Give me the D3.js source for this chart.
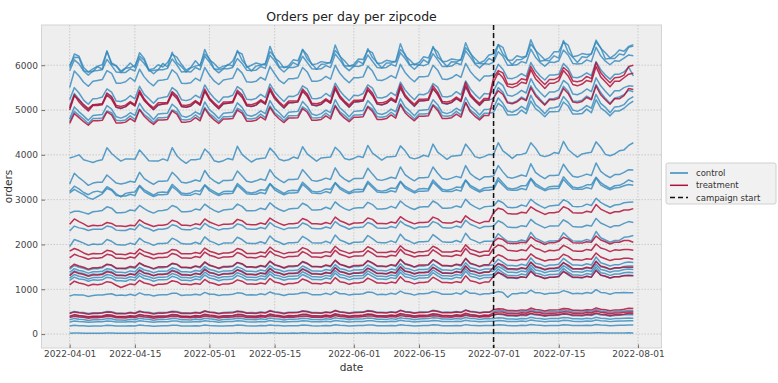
<!DOCTYPE html>
<html lang="en">
<head>
<meta charset="UTF-8">
<title>Orders per day per zipcode</title>
<script src="https://d3js.org/d3.v7.min.js"></script>
<style>
  body { margin: 0; background: #fff; }
  svg text { font-family: "DejaVu Sans", sans-serif; }
</style>
</head>
<body>
<svg id="chart" width="778" height="383"></svg>
<script>
// one value per day, 2022-04-01 .. 2022-07-31, one row per week (Fri..Thu)
const startDay = "2022-04-01";
const endDay = "2022-07-31";
const campaignStart = "2022-07-01";
const xTicks = ["2022-04-01", "2022-04-15", "2022-05-01", "2022-05-15", "2022-06-01",
                "2022-06-15", "2022-07-01", "2022-07-15", "2022-08-01"];
const yTicks = [0, 1000, 2000, 3000, 4000, 5000, 6000];

// control zipcodes
const c01 = [5950,6250,6200,5950,5850,5920,5980, 6010,6310,6050,5990,5870,5940,6050, 5950,6280,6150,5900,5920,6010,5960,
  6060,6240,6180,6020,5890,5950,6100, 5980,6350,6120,6040,5930,5980,6000, 6090,6300,6250,5950,6000,6050,6020,
  6010,6420,6160,6080,5940,5990,6120, 6100,6350,6230,6010,6030,6080,6060, 6050,6450,6200,6100,5980,6020,6140,
  6130,6330,6280,6040,6050,6110,6090, 6080,6480,6210,6120,6010,6060,6190, 6160,6390,6300,6080,6090,6140,6120,
  6110,6500,6260,6150,6050,6100,6230, 6250,6460,6400,6120,6110,6210,6180, 6200,6570,6330,6230,6120,6170,6300,
  6300,6520,6450,6190,6210,6260,6240, 6250,6560,6380,6280,6160,6230,6340, 6310,6420,6460];
const c02 = [6000,6180,6170,5880,5850,5860,5970, 5910,6320,6020,5980,5840,5930,5950, 5990,6200,6110,5870,5880,5900,6040,
  5960,6290,6060,5970,5850,5940,5980, 6010,6250,6150,5920,5900,5930,6020, 5980,6330,6110,5990,5870,5980,6000,
  6040,6300,6190,5960,5960,5950,6060, 6000,6350,6140,6030,5910,6020,6030, 6070,6330,6210,5980,5990,5980,6090,
  6030,6370,6170,6060,5940,6050,6050, 6090,6350,6250,6010,6020,6000,6120, 6050,6420,6180,6090,5970,6080,6070,
  6130,6390,6280,6050,6040,6030,6150, 6100,6460,6250,6130,6010,6120,6130, 6200,6470,6340,6090,6110,6100,6210,
  6160,6550,6290,6180,6060,6190,6170, 6260,6520,6390,6140,6150,6150,6250, 6230,6400,6430];
const c03 = [5880,6120,6030,5870,5780,5870,5880, 5900,6130,5990,5850,5840,5840,5920, 5870,6150,6040,5900,5810,5900,5900,
  5930,6140,6010,5850,5860,5850,5950, 5900,6200,6070,5920,5830,5920,5920, 5950,6150,6040,5890,5880,5890,5970,
  5930,6220,6100,5940,5850,5950,5950, 5980,6200,6060,5920,5910,5920,5990, 5950,6250,6120,5970,5880,5980,5970,
  6010,6230,6090,5950,5940,5950,6020, 5980,6280,6150,6000,5910,6010,5990, 6030,6260,6120,5970,5970,5980,6050,
  6010,6320,6180,6030,5940,6040,6020, 6070,6300,6200,6000,6000,6010,6080, 6050,6360,6180,6060,5980,6070,6060,
  6100,6340,6230,6040,6030,6040,6120, 6080,6400,6210,6090,6010,6100,6090, 6160,6230,6210];
const c04 = [5500,5870,5760,5620,5530,5640,5660, 5680,5880,5820,5600,5600,5630,5720, 5640,5910,5740,5620,5540,5660,5670,
  5690,5900,5810,5600,5590,5610,5710, 5650,5950,5780,5650,5570,5670,5690, 5710,5930,5830,5630,5620,5640,5730,
  5670,5970,5810,5660,5590,5700,5700, 5720,5950,5850,5640,5640,5670,5750, 5690,6000,5820,5700,5610,5720,5720,
  5740,5980,5870,5670,5660,5700,5770, 5710,6020,5840,5720,5630,5740,5740, 5760,6000,5890,5690,5680,5720,5790,
  5730,6040,5860,5740,5650,5760,5760, 5780,6020,5910,5710,5700,5740,5810, 5750,6060,5880,5760,5670,5780,5780,
  5800,6040,5930,5730,5720,5760,5830, 5770,6080,5900,5780,5690,5800,5800, 5850,5960,5760];
const c05 = [5230,5500,5380,5220,5130,5250,5260, 5290,5470,5400,5200,5190,5230,5320, 5250,5530,5350,5250,5150,5260,5280,
  5300,5500,5420,5230,5210,5240,5330, 5270,5560,5390,5270,5170,5290,5290, 5330,5520,5450,5240,5230,5260,5350,
  5280,5580,5410,5290,5190,5310,5300, 5350,5540,5470,5260,5250,5280,5370, 5300,5600,5430,5310,5210,5330,5320,
  5370,5560,5490,5280,5270,5300,5390, 5320,5620,5450,5330,5230,5350,5340, 5390,5590,5510,5300,5290,5320,5410,
  5340,5650,5470,5350,5250,5370,5360, 5430,5630,5550,5330,5310,5360,5440, 5380,5700,5510,5390,5290,5400,5400,
  5450,5660,5580,5360,5340,5390,5470, 5410,5720,5540,5420,5310,5430,5430, 5500,5540,5530];
const c06 = [5080,5370,5240,5100,5000,5110,5120, 5140,5360,5270,5060,5030,5080,5170, 5100,5390,5230,5110,5010,5100,5140,
  5160,5380,5300,5080,5060,5090,5190, 5110,5420,5260,5120,5030,5140,5150, 5180,5400,5320,5090,5080,5110,5200,
  5140,5430,5280,5140,5040,5160,5160, 5190,5420,5340,5110,5090,5130,5220, 5160,5460,5290,5160,5060,5180,5180,
  5210,5450,5350,5130,5110,5150,5230, 5180,5480,5310,5180,5080,5200,5200, 5230,5470,5370,5150,5130,5170,5250,
  5200,5510,5330,5200,5100,5220,5220, 5260,5500,5400,5180,5160,5200,5290, 5230,5540,5360,5240,5130,5250,5260,
  5290,5530,5420,5200,5190,5220,5310, 5250,5570,5390,5260,5150,5270,5290, 5340,5440,5410];
const c07 = [4800,5070,4960,4870,4770,4880,4890, 4900,5100,5020,4850,4820,4860,4940, 4880,5150,4990,4900,4790,4910,4920,
  4930,5130,5040,4870,4840,4880,4960, 4900,5180,5010,4920,4810,4930,4940, 4950,5160,5060,4890,4860,4900,4980,
  4920,5210,5030,4940,4830,4950,4960, 4970,5190,5080,4910,4880,4920,5000, 4940,5230,5050,4960,4850,4970,4980,
  4990,5210,5100,4930,4900,4940,5020, 4960,5250,5070,4980,4870,4990,5000, 5010,5230,5120,4950,4920,4960,5040,
  4980,5280,5090,5000,4890,5010,5020, 5050,5270,5150,4980,4950,5000,5080, 5010,5330,5120,5030,4920,5040,5050,
  5080,5300,5180,5000,4970,5020,5100, 5040,5350,5150,5060,4940,5070,5080, 5120,5240,5300];
const c08 = [4740,4970,4880,4800,4700,4810,4810, 4820,4980,4940,4770,4760,4780,4870, 4790,5020,4900,4820,4720,4830,4830,
  4840,5000,4960,4790,4780,4800,4890, 4810,5060,4920,4840,4740,4850,4850, 4860,5040,4980,4810,4800,4820,4910,
  4830,5090,4940,4860,4760,4870,4870, 4880,5070,5000,4830,4820,4840,4930, 4850,5110,4960,4880,4780,4890,4890,
  4900,5090,5020,4850,4840,4860,4950, 4870,5140,4980,4900,4800,4910,4910, 4920,5120,5040,4870,4860,4880,4970,
  4890,5170,5000,4920,4820,4930,4930, 4950,5150,5070,4890,4890,4900,5000, 4920,5200,5030,4950,4850,4960,4960,
  4970,5180,5090,4910,4910,4920,5020, 4940,5230,5050,4970,4870,4980,4980, 5040,5130,5200];
const c09 = [3930,3960,4000,3890,3860,3830,3870, 3890,4160,4030,3940,3860,3910,3910, 3900,4110,3990,3870,3860,3860,3910,
  3870,4160,3980,3880,3810,3890,3890, 3910,4130,4030,3870,3840,3870,3920, 3890,4190,4010,3920,3840,3900,3920,
  3930,4150,4040,3900,3870,3890,3950, 3920,4180,4020,3940,3860,3930,3940, 3950,4170,4070,3920,3890,3920,3970,
  3940,4210,4040,3960,3880,3950,3960, 3970,4200,4090,3940,3910,3940,3990, 3960,4240,4060,3980,3900,3970,3980,
  3990,4240,4110,3960,3930,3960,4010, 4000,4270,4090,4010,3920,4000,4010, 4040,4270,4150,3990,3960,3990,4050,
  4030,4300,4120,4030,3950,4020,4040, 4060,4290,4170,4010,3980,4020,4090, 4110,4210,4270];
const c10 = [3350,3590,3490,3410,3320,3370,3390, 3390,3550,3460,3370,3350,3370,3410, 3390,3610,3470,3400,3340,3410,3410,
  3420,3610,3510,3390,3370,3400,3440, 3410,3650,3500,3420,3360,3430,3430, 3440,3640,3530,3410,3390,3420,3460,
  3430,3670,3520,3440,3380,3450,3450, 3460,3670,3550,3430,3410,3440,3480, 3450,3710,3540,3460,3400,3470,3470,
  3480,3700,3570,3450,3430,3460,3500, 3470,3730,3560,3480,3420,3490,3490, 3500,3730,3590,3470,3450,3480,3520,
  3490,3760,3580,3500,3440,3510,3510, 3530,3760,3620,3500,3480,3510,3550, 3520,3800,3610,3530,3470,3540,3540,
  3550,3790,3640,3520,3500,3530,3570, 3540,3820,3630,3550,3490,3560,3560, 3610,3670,3660];
const c11 = [3180,3300,3240,3160,3110,3170,3190, 3160,3290,3230,3130,3060,3140,3160, 3170,3320,3220,3160,3100,3160,3170,
  3160,3340,3250,3150,3130,3150,3200, 3190,3330,3240,3180,3120,3180,3190, 3180,3360,3270,3170,3150,3170,3220,
  3210,3360,3260,3200,3140,3200,3210, 3200,3390,3290,3190,3170,3190,3240, 3230,3380,3280,3220,3160,3220,3230,
  3220,3410,3310,3210,3190,3210,3260, 3250,3410,3300,3240,3180,3240,3250, 3240,3440,3330,3230,3210,3230,3280,
  3270,3440,3320,3260,3200,3260,3270, 3280,3490,3370,3260,3240,3260,3310, 3310,3480,3360,3290,3230,3290,3300,
  3300,3510,3390,3280,3260,3280,3330, 3330,3500,3380,3310,3250,3310,3320, 3370,3440,3400];
const c12 = [3150,3230,3170,3110,3040,3010,3070, 3130,3250,3210,3090,3080,3080,3120, 3090,3300,3180,3120,3070,3110,3110,
  3120,3290,3210,3110,3100,3100,3140, 3110,3320,3200,3140,3090,3130,3130, 3140,3320,3230,3130,3120,3120,3160,
  3130,3350,3220,3160,3110,3150,3150, 3160,3340,3250,3150,3140,3140,3180, 3150,3370,3240,3180,3130,3170,3170,
  3180,3370,3270,3170,3160,3160,3200, 3170,3400,3260,3200,3150,3190,3190, 3200,3390,3290,3190,3180,3180,3220,
  3190,3430,3280,3220,3170,3210,3210, 3230,3430,3320,3220,3210,3210,3250, 3220,3460,3310,3250,3200,3240,3250,
  3250,3450,3340,3240,3230,3230,3270, 3240,3480,3330,3270,3220,3260,3270, 3310,3340,3320];
const c13 = [2700,2740,2740,2710,2680,2730,2740, 2760,2840,2810,2710,2710,2720,2770, 2750,2870,2800,2740,2700,2750,2760,
  2780,2870,2830,2730,2730,2740,2790, 2770,2900,2820,2760,2720,2770,2780, 2790,2900,2850,2750,2750,2760,2810,
  2780,2930,2840,2780,2740,2790,2800, 2810,2920,2870,2770,2770,2780,2830, 2790,2950,2860,2800,2760,2810,2820,
  2820,2940,2890,2790,2790,2800,2850, 2810,2970,2880,2820,2780,2830,2840, 2840,2970,2910,2810,2810,2820,2860,
  2830,3010,2900,2840,2790,2840,2850, 2860,2980,2930,2830,2820,2830,2880, 2850,3010,2920,2860,2810,2860,2870,
  2880,3000,2950,2850,2840,2850,2900, 2870,3030,2940,2880,2830,2880,2890, 2930,2940,2950];
const c14 = [2300,2410,2370,2350,2310,2340,2340, 2340,2410,2390,2320,2310,2310,2350, 2330,2450,2380,2350,2300,2340,2340,
  2360,2440,2410,2340,2330,2330,2370, 2340,2470,2400,2360,2320,2350,2350, 2370,2460,2430,2350,2340,2340,2380,
  2350,2490,2410,2370,2330,2370,2370, 2380,2480,2440,2360,2350,2350,2390, 2360,2510,2430,2390,2340,2380,2380,
  2390,2490,2450,2370,2360,2360,2400, 2370,2520,2440,2400,2350,2390,2390, 2400,2510,2470,2380,2370,2370,2410,
  2380,2540,2450,2410,2360,2400,2400, 2410,2530,2480,2390,2380,2380,2420, 2400,2560,2470,2420,2370,2410,2410,
  2420,2550,2490,2400,2390,2390,2430, 2410,2580,2480,2430,2380,2420,2420, 2470,2510,2490];
const c15 = [1950,2110,2070,2030,1980,2010,2000, 2010,2110,2070,2000,1990,1990,2030, 2000,2140,2060,2030,1980,2020,2020,
  2030,2140,2090,2020,2010,2010,2050, 2010,2170,2080,2040,1990,2030,2030, 2040,2160,2110,2030,2020,2020,2060,
  2020,2190,2090,2050,2000,2040,2040, 2050,2180,2120,2040,2030,2030,2070, 2030,2210,2100,2060,2010,2050,2050,
  2060,2200,2130,2050,2040,2040,2080, 2040,2230,2110,2070,2020,2060,2060, 2070,2220,2140,2060,2050,2050,2090,
  2050,2250,2120,2080,2030,2070,2070, 2080,2240,2150,2070,2060,2060,2100, 2070,2270,2140,2090,2040,2080,2080,
  2090,2260,2160,2080,2070,2070,2110, 2080,2290,2150,2100,2050,2090,2090, 2160,2170,2200];
const c16 = [1450,1530,1490,1470,1430,1460,1460, 1480,1550,1530,1460,1460,1450,1490, 1470,1580,1520,1490,1450,1480,1480,
  1500,1570,1550,1480,1480,1470,1510, 1480,1600,1530,1500,1460,1490,1490, 1510,1590,1560,1490,1490,1480,1520,
  1490,1620,1540,1510,1470,1500,1500, 1520,1610,1570,1500,1500,1490,1530, 1500,1640,1550,1520,1480,1510,1510,
  1530,1630,1580,1510,1510,1500,1540, 1510,1660,1560,1530,1490,1520,1520, 1540,1650,1590,1520,1520,1510,1550,
  1520,1680,1570,1540,1500,1530,1530, 1550,1670,1600,1530,1530,1520,1560, 1530,1700,1580,1560,1510,1540,1540,
  1560,1690,1610,1540,1540,1530,1570, 1540,1720,1590,1560,1520,1550,1550, 1590,1610,1600];
const c17 = [1380,1460,1420,1400,1360,1390,1390, 1400,1460,1440,1380,1380,1370,1410, 1390,1490,1430,1410,1370,1400,1400,
  1410,1480,1450,1390,1390,1380,1420, 1400,1510,1440,1420,1380,1410,1410, 1420,1500,1460,1400,1400,1390,1430,
  1410,1530,1450,1430,1390,1420,1420, 1430,1520,1470,1410,1410,1400,1440, 1420,1550,1460,1440,1400,1430,1430,
  1440,1540,1480,1420,1420,1410,1450, 1430,1570,1470,1450,1410,1440,1440, 1450,1560,1490,1430,1430,1420,1460,
  1440,1590,1480,1460,1420,1450,1450, 1460,1580,1500,1440,1440,1430,1470, 1450,1610,1490,1470,1430,1460,1460,
  1470,1600,1510,1450,1450,1440,1480, 1460,1630,1500,1480,1440,1470,1470, 1510,1520,1520];
const c18 = [1330,1410,1370,1350,1310,1340,1330, 1350,1410,1390,1320,1320,1310,1350, 1330,1440,1370,1350,1310,1340,1340,
  1360,1430,1400,1330,1330,1320,1360, 1340,1460,1380,1360,1320,1350,1350, 1370,1440,1410,1340,1340,1330,1370,
  1350,1470,1390,1370,1330,1360,1360, 1380,1460,1420,1350,1350,1340,1380, 1360,1490,1400,1380,1340,1370,1370,
  1390,1470,1430,1360,1360,1350,1390, 1370,1500,1410,1390,1350,1380,1380, 1400,1490,1440,1370,1370,1360,1400,
  1380,1520,1420,1400,1360,1390,1390, 1410,1510,1450,1380,1380,1370,1410, 1390,1540,1430,1410,1370,1400,1400,
  1420,1530,1460,1390,1390,1380,1420, 1400,1560,1440,1420,1380,1410,1410, 1440,1450,1440];
const c19 = [1250,1330,1290,1270,1230,1260,1260, 1270,1330,1310,1250,1250,1240,1280, 1260,1360,1300,1280,1240,1270,1270,
  1280,1350,1320,1260,1260,1250,1290, 1270,1380,1310,1290,1250,1280,1280, 1290,1370,1330,1270,1270,1260,1300,
  1280,1400,1320,1300,1260,1290,1290, 1300,1390,1340,1280,1280,1270,1310, 1290,1420,1330,1310,1270,1300,1300,
  1310,1410,1350,1290,1290,1280,1320, 1300,1440,1340,1320,1280,1310,1310, 1320,1430,1360,1300,1300,1290,1330,
  1310,1460,1350,1330,1290,1320,1320, 1330,1450,1370,1310,1310,1300,1340, 1320,1480,1360,1340,1300,1330,1330,
  1340,1470,1380,1320,1320,1310,1350, 1330,1500,1370,1350,1310,1340,1340, 1370,1380,1370];
const c20 = [1200,1270,1230,1220,1180,1210,1200, 1210,1270,1250,1190,1190,1180,1220, 1200,1300,1240,1220,1180,1210,1210,
  1220,1290,1260,1200,1200,1190,1230, 1210,1320,1250,1230,1190,1220,1220, 1230,1310,1270,1210,1210,1200,1240,
  1220,1340,1260,1240,1200,1230,1230, 1240,1330,1280,1220,1220,1210,1250, 1230,1360,1270,1250,1210,1240,1240,
  1250,1350,1290,1230,1230,1220,1260, 1240,1380,1280,1260,1220,1250,1250, 1260,1370,1300,1240,1240,1230,1270,
  1250,1400,1290,1270,1230,1260,1260, 1270,1390,1310,1250,1250,1240,1280, 1260,1420,1300,1280,1240,1270,1270,
  1280,1410,1320,1260,1260,1250,1290, 1270,1440,1310,1290,1250,1280,1280, 1310,1320,1310];
const c21 = [850,880,870,870,840,860,870, 870,890,900,860,870,860,890, 860,920,880,880,850,870,880,
  880,910,910,860,870,870,890, 870,930,890,890,860,880,880, 890,920,910,870,880,870,900,
  880,940,900,890,860,890,890, 900,930,920,880,880,880,910, 880,950,900,900,870,890,890,
  900,940,930,880,890,880,910, 890,960,910,900,870,900,900, 910,950,930,890,890,890,920,
  890,970,910,910,880,900,900, 920,950,930,820,900,900,920, 910,980,920,920,890,910,910,
  920,970,940,900,910,900,930, 910,990,930,920,890,920,920, 930,920,920];
const c22 = [470,505,485,480,460,475,475, 480,505,500,470,470,465,485, 470,515,490,485,465,480,480,
  485,510,505,475,475,470,490, 475,520,495,485,465,480,485, 490,515,505,475,480,475,495,
  480,525,500,490,470,485,485, 490,520,510,480,480,475,495, 480,530,500,490,475,490,490,
  495,525,515,485,485,480,500, 485,535,505,495,475,490,495, 495,530,515,485,490,485,505,
  490,540,510,500,480,495,495, 500,535,520,490,490,490,505, 495,545,510,500,485,500,500,
  505,540,525,495,495,490,510, 495,550,515,505,485,500,505, 515,525,520];
const c23 = [390,420,400,395,375,390,390, 395,420,410,385,385,380,400, 390,425,405,400,380,395,395,
  400,425,415,390,390,385,405, 395,430,405,400,380,395,400, 405,430,420,395,395,390,410,
  395,435,410,405,385,400,400, 405,430,420,395,395,390,410, 400,440,415,410,390,405,405,
  410,435,425,400,400,395,415, 405,445,415,410,390,405,410, 415,440,430,405,405,400,420,
  405,445,420,415,395,410,410, 420,445,430,405,405,400,420, 410,450,425,420,400,415,415,
  420,450,435,410,410,405,425, 415,455,425,420,400,415,420, 430,435,430];
const c24 = [320,350,330,325,305,320,320, 325,345,340,315,315,310,330, 320,355,335,330,310,325,325,
  330,350,345,320,320,315,335, 320,355,340,330,310,325,330, 335,355,350,325,325,320,340,
  325,360,340,335,315,330,330, 335,355,350,325,325,320,340, 330,365,345,340,320,335,335,
  340,360,355,330,330,325,345, 330,365,345,340,320,335,340, 345,365,360,335,335,330,350,
  335,370,350,345,325,340,340, 345,365,360,335,335,330,350, 340,375,355,350,330,345,345,
  350,370,365,340,340,335,355, 340,375,355,350,330,345,350, 355,360,355];
const c25 = [270,292,282,275,262,270,273, 274,290,288,270,268,268,279, 271,297,284,277,264,273,276,
  277,293,290,272,270,270,281, 273,299,286,279,266,274,279, 279,296,292,274,272,272,283,
  275,301,288,281,268,276,280, 280,298,294,276,274,274,284, 277,305,290,283,270,278,282,
  282,300,296,278,276,276,286, 279,307,292,285,272,280,284, 284,303,298,280,278,278,288,
  281,309,294,287,274,282,286, 286,305,300,282,280,280,290, 283,313,296,289,276,284,288,
  288,308,302,284,282,282,292, 285,315,298,291,278,286,290, 292,298,295];
const c26 = [180,197,188,184,176,181,183, 183,196,194,181,180,179,187, 181,201,190,186,177,182,185,
  185,199,196,182,181,181,188, 183,203,192,188,178,183,187, 186,201,198,184,182,183,189,
  184,205,194,189,180,185,188, 188,202,199,185,183,184,191, 186,207,195,191,181,186,189,
  189,204,200,187,185,186,192, 187,209,197,192,182,187,191, 191,206,201,188,186,187,193,
  188,211,198,193,184,189,192, 192,208,203,189,187,188,195, 190,213,200,195,185,190,194,
  193,210,204,191,189,190,196, 191,215,201,196,186,191,195, 197,203,200];
const c27 = [18,24,22,19,17,18,20, 19,25,22,19,17,18,20, 19,25,23,19,18,18,20, 20,26,23,20,18,19,21,
  20,26,23,20,18,19,21, 20,27,24,20,18,19,21, 21,27,24,21,19,20,22, 21,28,24,21,19,20,22,
  21,28,25,21,19,20,22, 22,29,25,22,20,21,23, 22,29,25,22,20,21,23, 22,30,26,22,20,21,23,
  23,30,26,23,21,22,24, 23,31,26,23,21,22,24, 23,31,27,23,21,22,24, 24,32,27,24,22,23,25,
  24,32,27,24,22,23,25, 25,28,26];

// treatment zipcodes
const t01 = [5000,5320,5230,5120,5030,5120,5130, 5140,5380,5300,5100,5080,5110,5190, 5120,5440,5250,5130,5050,5160,5160,
  5170,5410,5320,5110,5100,5130,5210, 5140,5470,5270,5160,5070,5180,5180, 5190,5440,5340,5130,5120,5150,5230,
  5160,5500,5300,5180,5090,5200,5200, 5210,5470,5360,5150,5140,5170,5250, 5180,5530,5320,5200,5110,5220,5220,
  5230,5500,5380,5170,5160,5190,5270, 5200,5570,5340,5220,5130,5240,5240, 5250,5540,5400,5190,5180,5210,5290,
  5220,5620,5360,5240,5150,5260,5260, 5720,5880,5830,5580,5570,5600,5700, 5670,5970,5790,5670,5570,5680,5680,
  5730,5950,5860,5650,5630,5660,5750, 5700,6060,5830,5710,5610,5720,5730, 5780,5970,6000];
const t02 = [5040,5340,5180,5070,4980,5100,5100, 5120,5330,5240,5060,5040,5070,5160, 5090,5390,5210,5110,5010,5120,5130,
  5140,5360,5260,5080,5060,5090,5180, 5110,5420,5230,5130,5030,5140,5150, 5160,5390,5280,5100,5080,5110,5200,
  5130,5450,5250,5150,5050,5160,5170, 5180,5420,5300,5120,5100,5130,5220, 5150,5480,5270,5170,5070,5180,5190,
  5200,5450,5320,5140,5120,5150,5240, 5170,5510,5290,5190,5090,5200,5210, 5220,5480,5340,5160,5140,5170,5260,
  5190,5540,5310,5210,5110,5220,5230, 5620,5830,5720,5530,5500,5540,5620, 5590,5900,5700,5590,5480,5600,5600,
  5650,5880,5760,5570,5540,5580,5660, 5630,5970,5740,5630,5520,5640,5640, 5720,5800,5820];
const t03 = [4700,4920,4830,4740,4660,4760,4760, 4770,4960,4890,4710,4710,4730,4810, 4740,5010,4860,4760,4680,4780,4780,
  4790,4980,4910,4730,4730,4750,4830, 4760,5030,4880,4780,4700,4800,4800, 4810,5000,4930,4750,4750,4770,4850,
  4780,5060,4900,4800,4720,4820,4820, 4830,5030,4950,4770,4770,4790,4870, 4800,5090,4920,4820,4740,4840,4840,
  4850,5070,4970,4790,4790,4810,4890, 4820,5120,4940,4840,4760,4860,4860, 4870,5100,4990,4810,4810,4830,4910,
  4840,5170,4960,4860,4780,4880,4880, 5270,5430,5350,5160,5140,5180,5260, 5210,5500,5320,5210,5110,5230,5230,
  5260,5480,5370,5180,5160,5190,5280, 5230,5540,5340,5230,5130,5250,5250, 5320,5480,5460];
const t04 = [2450,2570,2510,2460,2400,2430,2420, 2430,2490,2470,2410,2410,2400,2430, 2420,2550,2480,2440,2400,2430,2430,
  2450,2540,2510,2430,2430,2420,2460, 2440,2570,2500,2460,2420,2450,2450, 2460,2560,2530,2450,2440,2440,2480,
  2450,2590,2520,2470,2430,2460,2460, 2480,2580,2540,2460,2460,2450,2490, 2460,2610,2530,2490,2440,2480,2480,
  2490,2590,2560,2470,2470,2460,2500, 2480,2620,2550,2500,2460,2490,2490, 2500,2610,2570,2490,2480,2480,2520,
  2490,2640,2560,2510,2470,2510,2510, 2710,2810,2780,2690,2680,2680,2720, 2700,2840,2770,2720,2670,2710,2710,
  2730,2840,2800,2710,2700,2700,2740, 2720,2890,2790,2740,2690,2730,2730, 2770,2770,2800];
const t05 = [1850,1910,1870,1810,1770,1800,1790, 1800,1870,1850,1780,1780,1770,1810, 1790,1900,1840,1810,1770,1800,1800,
  1820,1890,1870,1790,1790,1790,1820, 1800,1920,1850,1820,1780,1810,1810, 1830,1910,1880,1800,1800,1800,1830,
  1810,1940,1860,1830,1790,1820,1820, 1840,1930,1890,1810,1810,1810,1840, 1820,1960,1870,1840,1800,1830,1830,
  1850,1950,1900,1820,1820,1820,1850, 1830,1970,1880,1850,1810,1840,1840, 1860,1960,1910,1830,1830,1830,1860,
  1840,1990,1890,1860,1820,1850,1850, 2060,2140,2110,2030,2020,2020,2050, 2040,2170,2090,2050,2000,2040,2040,
  2070,2160,2120,2040,2030,2030,2060, 2050,2190,2100,2060,2010,2050,2050, 2090,2090,2050];
const t06 = [1700,1780,1740,1710,1670,1700,1690, 1710,1780,1760,1690,1690,1680,1720, 1700,1810,1750,1720,1680,1710,1710,
  1720,1800,1770,1700,1700,1690,1730, 1710,1830,1760,1730,1690,1720,1720, 1730,1820,1780,1710,1710,1700,1740,
  1720,1850,1770,1740,1700,1730,1730, 1740,1840,1790,1720,1720,1710,1750, 1730,1870,1780,1750,1710,1740,1740,
  1750,1860,1800,1730,1730,1720,1760, 1740,1890,1790,1760,1720,1750,1750, 1760,1880,1810,1740,1740,1730,1770,
  1750,1910,1800,1770,1730,1760,1760, 1910,1990,1960,1870,1860,1850,1880, 1860,1990,1910,1880,1830,1870,1860,
  1880,1980,1930,1860,1850,1850,1890, 1870,2010,1920,1890,1840,1880,1870, 1890,1890,1870];
const t07 = [1480,1560,1520,1490,1450,1480,1480, 1500,1560,1540,1470,1470,1470,1510, 1490,1590,1530,1500,1460,1500,1500,
  1510,1580,1560,1490,1490,1480,1520, 1500,1610,1540,1510,1470,1510,1510, 1520,1600,1570,1500,1500,1490,1530,
  1510,1630,1550,1520,1480,1520,1520, 1530,1620,1580,1510,1510,1500,1540, 1520,1650,1560,1530,1490,1530,1530,
  1540,1640,1590,1520,1520,1510,1550, 1530,1670,1570,1540,1500,1540,1540, 1550,1660,1600,1530,1530,1520,1560,
  1540,1690,1580,1550,1510,1550,1550, 1690,1770,1730,1660,1650,1640,1670, 1660,1790,1710,1670,1630,1660,1660,
  1680,1780,1740,1660,1660,1650,1680, 1670,1810,1720,1680,1640,1670,1670, 1690,1690,1670];
const t08 = [1300,1390,1350,1330,1290,1320,1320, 1330,1390,1370,1310,1310,1300,1340, 1320,1420,1360,1340,1300,1330,1330,
  1340,1410,1380,1320,1320,1310,1350, 1330,1440,1370,1350,1310,1340,1340, 1350,1430,1390,1330,1330,1320,1360,
  1340,1460,1380,1360,1320,1350,1350, 1360,1450,1400,1340,1340,1330,1370, 1350,1480,1390,1370,1330,1360,1360,
  1370,1470,1410,1350,1350,1340,1380, 1360,1500,1400,1380,1340,1370,1370, 1380,1490,1420,1360,1360,1350,1390,
  1370,1520,1410,1390,1350,1380,1380, 1490,1570,1540,1460,1460,1450,1480, 1460,1600,1510,1480,1440,1470,1470,
  1490,1590,1540,1460,1460,1460,1490, 1470,1620,1520,1490,1450,1480,1480, 1490,1490,1490];
const t09 = [1100,1180,1140,1120,1080,1110,1100, 1120,1170,1150,1090,1040,1080,1120, 1100,1200,1140,1120,1080,1110,1110,
  1130,1190,1170,1110,1110,1100,1130, 1110,1220,1150,1130,1090,1120,1120, 1140,1210,1180,1120,1120,1110,1140,
  1120,1240,1160,1140,1100,1130,1130, 1150,1230,1190,1130,1130,1120,1150, 1130,1260,1170,1150,1110,1140,1140,
  1160,1250,1200,1140,1140,1130,1160, 1140,1280,1180,1160,1120,1150,1150, 1170,1270,1210,1150,1150,1140,1170,
  1150,1300,1190,1170,1130,1160,1160, 1290,1370,1330,1260,1260,1250,1280, 1260,1400,1310,1280,1240,1270,1270,
  1290,1390,1340,1270,1270,1260,1290, 1270,1420,1320,1290,1250,1280,1280, 1300,1300,1300];
const t10 = [460,495,475,465,445,460,460, 470,490,485,455,455,455,475, 460,505,480,470,450,465,465,
  475,500,490,460,460,460,475, 465,510,485,475,455,470,470, 475,505,495,465,465,460,480,
  470,515,490,475,455,475,475, 480,510,500,470,470,465,485, 475,520,495,480,460,475,480,
  485,515,505,475,475,470,490, 475,525,495,485,465,480,480, 490,520,505,475,475,475,495,
  480,530,500,490,470,485,485, 545,565,560,525,525,520,540, 530,580,550,540,515,535,535,
  545,570,565,530,530,525,545, 535,585,555,545,520,540,540, 555,575,570];
const t11 = [400,435,415,405,385,400,400, 405,430,425,395,395,395,410, 400,440,420,410,390,405,405,
  410,435,430,400,400,395,415, 405,445,425,415,395,410,410, 415,440,435,405,405,400,420,
  405,450,425,415,395,415,410, 420,445,440,410,410,405,425, 410,455,430,420,400,415,415,
  425,450,440,410,410,410,425, 415,460,435,425,405,420,420, 425,455,445,415,415,410,430,
  420,465,435,425,405,425,420, 475,495,490,460,460,455,475, 465,510,480,475,450,465,465,
  475,500,495,465,465,460,480, 470,515,485,475,455,470,470, 485,495,490];
const t12 = [370,395,380,375,355,370,365, 375,390,390,365,365,360,380, 365,400,380,375,355,370,370,
  380,395,395,370,370,365,380, 370,405,385,380,360,375,375, 380,400,395,370,370,365,385,
  375,410,390,385,365,380,375, 385,400,400,375,375,370,390, 375,415,390,385,365,380,380,
  390,405,405,380,380,375,390, 380,415,395,390,370,385,385, 390,410,405,380,380,375,395,
  385,420,400,395,375,390,385, 435,450,450,420,420,415,435, 425,465,440,430,410,425,425,
  435,455,450,425,425,420,440, 430,470,445,435,415,430,430, 445,465,460];

const controlSeries = [c01, c02, c03, c04, c05, c06, c07, c08, c09, c10, c11, c12, c13, c14,
  c15, c16, c17, c18, c19, c20, c21, c22, c23, c24, c25, c26, c27];
const treatmentSeries = [t01, t02, t03, t04, t05, t06, t07, t08, t09, t10, t11, t12];

const blue = "#348ABD", red = "#B0103A";

const svg = d3.select("#chart");
const plot = {left: 41.5, right: 661.5, top: 25, bottom: 348};

const parse = d3.timeParse("%Y-%m-%d");
const allSeries = controlSeries.concat(treatmentSeries);
const dates = d3.timeDay.range(parse(startDay), d3.timeDay.offset(parse(endDay), 1));
const nDays = dates.length;

// matplotlib style 5% margins
const span = dates[nDays - 1] - dates[0];
const x = d3.scaleTime()
    .domain([new Date(+dates[0] - 0.05 * span), new Date(+dates[nDays - 1] + 0.05 * span)])
    .range([plot.left, plot.right]);
const yMin = d3.min(allSeries, s => d3.min(s)), yMax = d3.max(allSeries, s => d3.max(s));
const yPad = 0.05 * (yMax - yMin);
const y = d3.scaleLinear()
    .domain([yMin - yPad, yMax + yPad])
    .range([plot.bottom, plot.top]);

// background
svg.append("rect")
    .attr("x", plot.left).attr("y", plot.top)
    .attr("width", plot.right - plot.left).attr("height", plot.bottom - plot.top)
    .attr("fill", "#eeeeee").attr("stroke", "#d4d4d4").attr("stroke-width", 1);

// grid
const grid = svg.append("g").attr("stroke", "#c2c2c2").attr("stroke-width", 0.8).attr("stroke-dasharray", "1.5,1.5");
grid.selectAll(".gx").data(xTicks.map(parse)).join("line")
    .attr("x1", d => x(d)).attr("x2", d => x(d))
    .attr("y1", plot.top).attr("y2", plot.bottom);
grid.selectAll(".gy").data(yTicks).join("line")
    .attr("x1", plot.left).attr("x2", plot.right)
    .attr("y1", d => y(d)).attr("y2", d => y(d));

// axes
const xAxis = svg.append("g")
    .attr("transform", "translate(0," + plot.bottom + ")")
    .call(d3.axisBottom(x).tickValues(xTicks.map(parse))
        .tickFormat(d3.timeFormat("%Y-%m-%d")).tickSizeInner(-3.5).tickSizeOuter(0).tickPadding(3));
const yAxis = svg.append("g")
    .attr("transform", "translate(" + plot.left + ",0)")
    .call(d3.axisLeft(y).tickValues(yTicks).tickFormat(d3.format("d"))
        .tickSizeInner(-3.5).tickSizeOuter(0).tickPadding(3.5));
[xAxis, yAxis].forEach(a => {
    a.select(".domain").remove();
    a.selectAll(".tick line").attr("stroke", "#555").attr("stroke-width", 0.8);
    a.selectAll(".tick text").attr("fill", "#444").style("font-size", "9px")
        .style("font-family", "'DejaVu Sans', sans-serif");
});

// lines, one per zipcode
const line = d3.line()
    .defined((d, i) => i < nDays)
    .x((d, i) => x(dates[i])).y(d => y(d));
svg.append("g").selectAll("path").data(controlSeries).join("path")
    .attr("d", line).attr("fill", "none")
    .attr("stroke", blue).attr("stroke-opacity", 0.82).attr("stroke-width", 1.5)
    .attr("stroke-linejoin", "round");
svg.append("g").selectAll("path").data(treatmentSeries).join("path")
    .attr("d", line).attr("fill", "none")
    .attr("stroke", red).attr("stroke-opacity", 0.85).attr("stroke-width", 1.5)
    .attr("stroke-linejoin", "round");

// campaign start
svg.append("line")
    .attr("x1", x(parse(campaignStart))).attr("x2", x(parse(campaignStart)))
    .attr("y1", plot.top).attr("y2", plot.bottom)
    .attr("stroke", "#111").attr("stroke-width", 1.5).attr("stroke-dasharray", "5,3");

// labels
svg.append("text").attr("x", (plot.left + plot.right) / 2).attr("y", 21)
    .attr("text-anchor", "middle").attr("fill", "#222").style("font-size", "12.5px")
    .text("Orders per day per zipcode");
svg.append("text").attr("x", (plot.left + plot.right) / 2).attr("y", 371)
    .attr("text-anchor", "middle").attr("fill", "#333").style("font-size", "10.5px")
    .text("date");
svg.append("text")
    .attr("transform", "translate(12," + (plot.top + plot.bottom) / 2 + ") rotate(-90)")
    .attr("text-anchor", "middle").attr("fill", "#333").style("font-size", "10.5px")
    .text("orders");

// legend
const legendItems = [
    {label: "control", color: blue, dash: null},
    {label: "treatment", color: red, dash: null},
    {label: "campaign start", color: "#111", dash: "5,3"}
];
const lg = svg.append("g").attr("transform", "translate(666,163)");
lg.append("rect").attr("width", 110).attr("height", 41).attr("rx", 2)
    .attr("fill", "#f1f1f1").attr("stroke", "#d0d0d0");
const li = lg.selectAll(".item").data(legendItems).join("g")
    .attr("transform", (d, i) => "translate(0," + (10 + i * 12.3) + ")");
li.append("line").attr("x1", 4).attr("x2", 22)
    .attr("stroke", d => d.color).attr("stroke-width", 1.5)
    .attr("stroke-dasharray", d => d.dash);
li.append("text").attr("x", 30).attr("dy", "0.35em")
    .attr("fill", "#333").style("font-size", "8.5px").text(d => d.label);
</script>
</body>
</html>
